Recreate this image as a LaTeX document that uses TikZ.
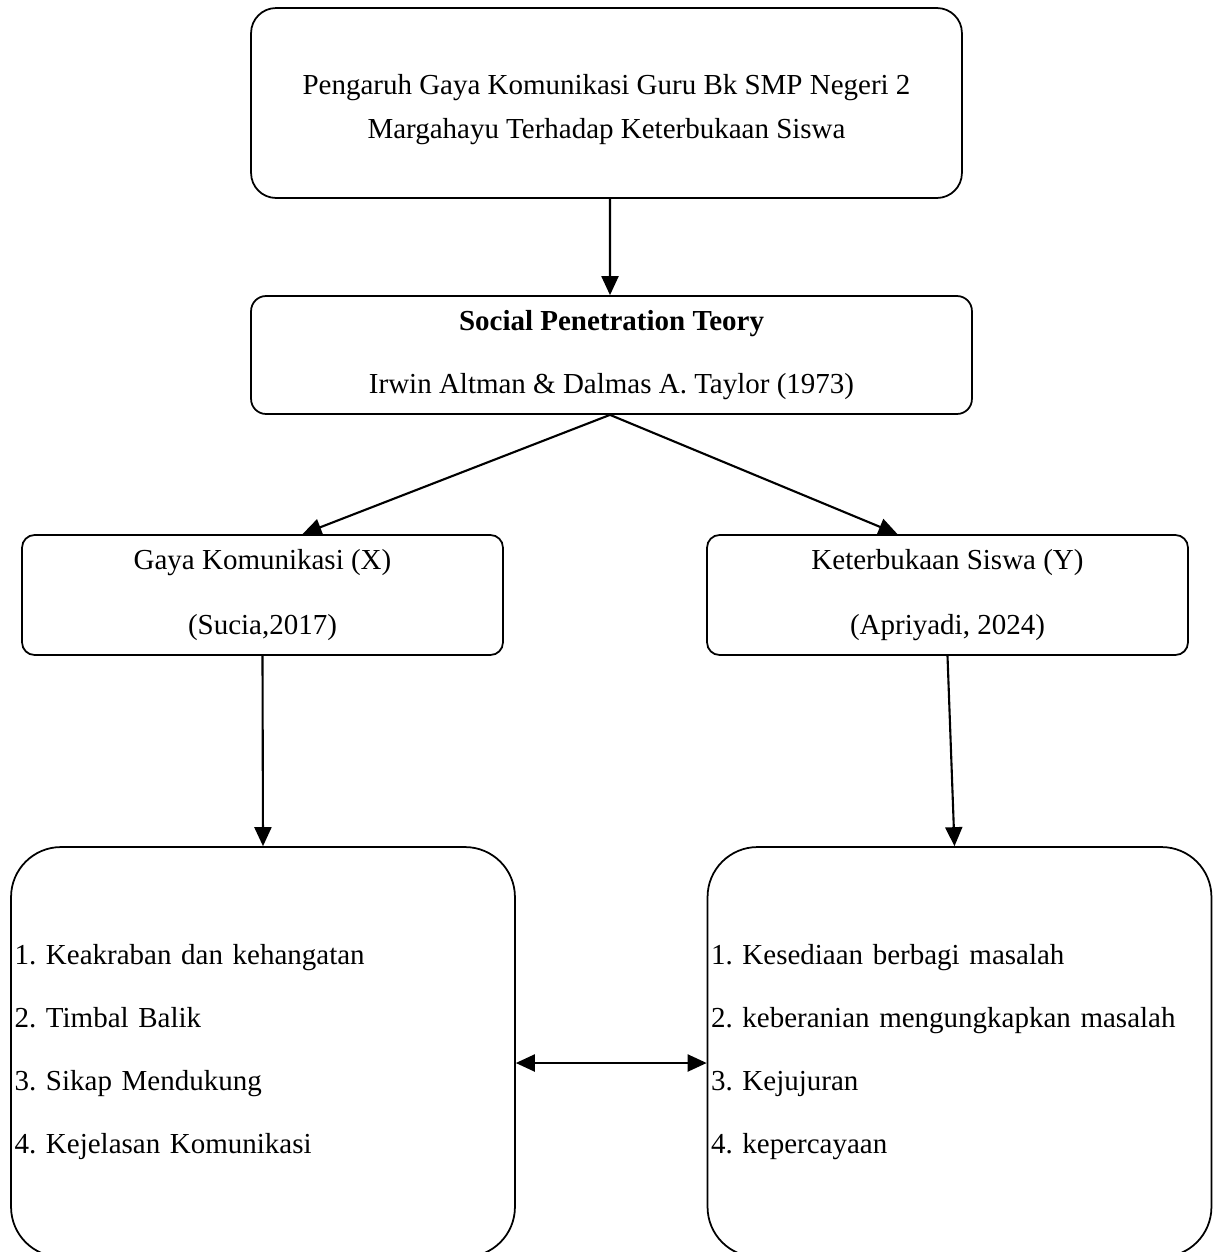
\documentclass[tikz,border=0pt]{standalone}
\usepackage{fontspec}
\setmainfont{Liberation Serif}
\usetikzlibrary{arrows.meta}

\tikzset{
  box/.style={draw,line width=1pt,fill=white,font=\fontsize{16.5}{25}\selectfont\frenchspacing},
  list/.style={box,rounded corners=1cm,align=left,inner xsep=2pt,
    text width=10.08cm-4pt,minimum height=8.2cm},
  link/.style={line width=1.2pt,-{Triangle[length=0.38cm,width=0.34cm]}}
}

\begin{document}
\begin{tikzpicture}[x=0.02cm,y=-0.02cm]
  \useasboundingbox (0,0) rectangle (1213,1252);
  \clip (0,0) rectangle (1213,1252);

  %boxes
  \node[box,rounded corners=0.5cm,minimum width=14.22cm,minimum height=3.8cm,align=center]
    (judul) at (606.5,103) {\rule{0pt}{19pt}Pengaruh Gaya Komunikasi Guru Bk SMP Negeri 2\\Margahayu Terhadap Keterbukaan Siswa};
  \node[box,rounded corners=0.3cm,minimum width=14.42cm,minimum height=2.36cm,align=center]
    (teori) at (611.5,355) {\textbf{Social Penetration Teory}\\[11pt]Irwin Altman \& Dalmas A. Taylor (1973)};
  \node[box,rounded corners=0.25cm,minimum width=9.62cm,minimum height=2.4cm,align=center]
    (gaya) at (262.5,595) {Gaya Komunikasi (X)\\[12pt](Sucia,2017)};
  \node[box,rounded corners=0.25cm,minimum width=9.62cm,minimum height=2.4cm,align=center]
    (buka) at (947.5,595) {Keterbukaan Siswa (Y)\\[12pt](Apriyadi, 2024)};

  \node[list] (indX) at (263,1052) {1. Keakraban dan kehangatan\\[11pt]2. Timbal Balik\\[11pt]3. Sikap Mendukung\\[11pt]4. Kejelasan Komunikasi};
  \node[list] (indY) at (959.5,1052) {1. Kesediaan berbagi masalah\\[11pt]2. keberanian mengungkapkan masalah\\[11pt]3. Kejujuran\\[11pt]4. kepercayaan};

  %arrows
  \draw[link] ([xshift=0.07cm]judul.south) -- ([xshift=-0.03cm]teori.north);
  \draw[link] ([xshift=-0.03cm]teori.south) -- ([xshift=0.8cm]gaya.north);
  \draw[link] ([xshift=-0.03cm]teori.south) -- ([xshift=-1cm]buka.north);
  \draw[link] (gaya.south) -- (indX.north);
  \draw[link] (buka.south) -- ([xshift=-0.1cm]indY.north);
  \draw[link,{Triangle[length=0.38cm,width=0.34cm]}-{Triangle[length=0.38cm,width=0.34cm]}]
    ([yshift=-0.22cm]indX.east) -- ([yshift=-0.22cm]indY.west);
\end{tikzpicture}
\end{document}
